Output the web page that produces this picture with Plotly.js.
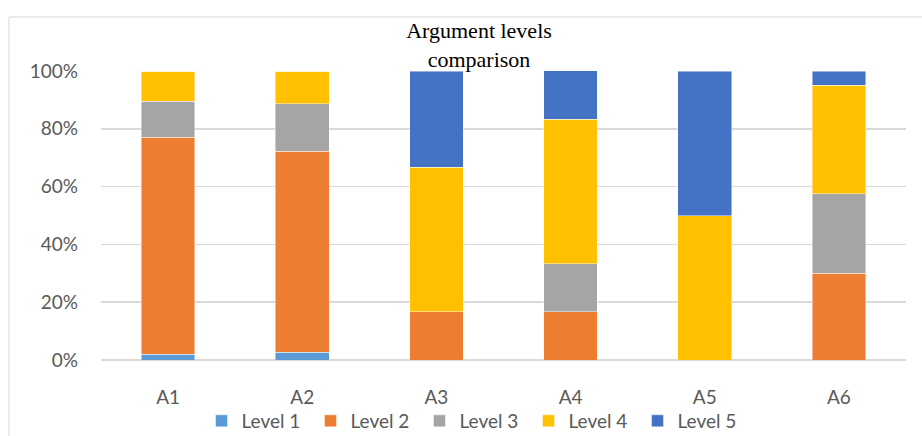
<!DOCTYPE html>
<html>
<head>
<meta charset="utf-8">
<script src="https://cdn.plot.ly/plotly-3.0.1.min.js"></script>
<style>html,body{margin:0;padding:0;background:#fff;}#chart{width:922px;height:436px;}</style>
</head>
<body>
<div id="chart"></div>
<script>
const categories = ["A1", "A2", "A3", "A4", "A5", "A6"];
const level1 = [2, 2.7, 0, 0, 0, 0];
const level2 = [75, 69.5, 16.67, 16.67, 0, 30];
const level3 = [12.5, 16.5, 0, 16.67, 0, 27.5];
const level4 = [10.5, 11.3, 50, 50, 50, 37.5];
const level5 = [0, 0, 33.33, 16.67, 50, 5];
const seriesNames = ["Level 1", "Level 2", "Level 3", "Level 4", "Level 5"];
const seriesColors = ["#5B9BD5", "#ED7D31", "#A5A5A5", "#FFC000", "#4472C4"];
const yTickVals = [0, 20, 40, 60, 80, 100];
const yTickText = ["0%", "20%", "40%", "60%", "80%", "100%"];

const allSeries = [level1, level2, level3, level4, level5];
const traces = allSeries.map((vals, i) => ({
  type: "bar",
  name: seriesNames[i],
  x: categories,
  y: vals,
  marker: {color: seriesColors[i], line: {color: "rgba(255,255,255,0.6)", width: 0.75}},
  hoverinfo: "none"
}));

const tickFont = {family: "Lato, 'Open Sans', sans-serif", size: 19, color: "#595959"};

const layout = {
  width: 922, height: 436,
  margin: {l: 101, r: 16, t: 71, b: 76},
  paper_bgcolor: "#fff", plot_bgcolor: "#fff",
  barmode: "stack",
  bargap: 0.6,
  showlegend: true,
  title: {
    text: "Argument levels<br>comparison",
    font: {family: "'Liberation Serif', 'Times New Roman', serif", size: 22, color: "#000"},
    x: 479/922, xref: "container", xanchor: "center",
    y: 1 - 38/436, yref: "container", yanchor: "top",
    automargin: false
  },
  xaxis: {
    type: "category",
    tickfont: tickFont,
    showgrid: false, zeroline: false, showline: false,
    ticks: "", ticklabelstandoff: 24,
    automargin: false
  },
  yaxis: {
    range: [0, 100],
    tickvals: yTickVals,
    ticktext: yTickText,
    tickfont: tickFont,
    showgrid: true, gridcolor: "#D9D9D9", gridwidth: 1.5,
    zeroline: true, zerolinecolor: "#D9D9D9", zerolinewidth: 1.5,
    showline: false, ticks: "", ticklabelstandoff: 22,
    automargin: false
  },
  legend: {
    orientation: "h",
    x: 474/922, xref: "container", xanchor: "center",
    y: 1 - 421/436, yref: "container", yanchor: "middle",
    font: tickFont,
    bgcolor: "rgba(0,0,0,0)",
    traceorder: "normal",
    entrywidth: 64, entrywidthmode: "pixels",
    itemclick: false
  },
  shapes: [{
    type: "rect", xref: "paper", yref: "paper",
    x0: (9 - 101)/805, x1: 1.2, y0: -0.5, y1: (360 - 17)/289,
    line: {color: "#D9D9D9", width: 1}, fillcolor: "rgba(0,0,0,0)", layer: "below"
  }]
};

Plotly.newPlot("chart", traces, layout, {staticPlot: true, displayModeBar: false});
</script>
</body>
</html>
